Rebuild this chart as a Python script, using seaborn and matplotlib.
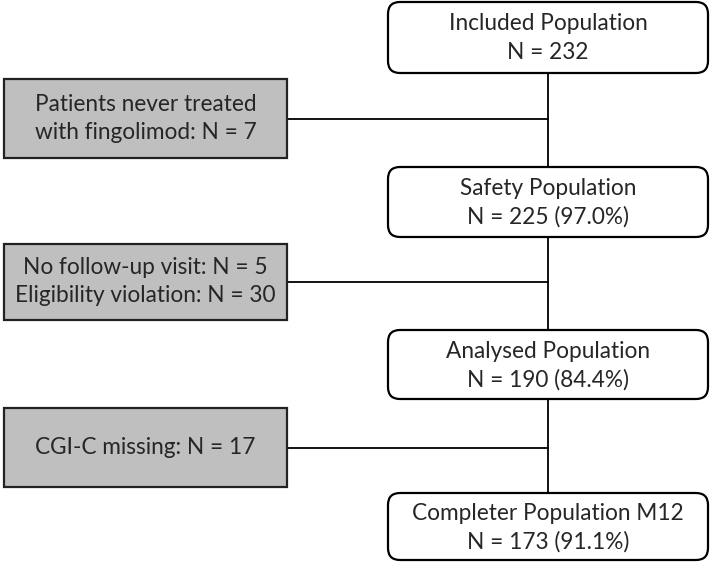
import matplotlib
matplotlib.use("Agg")
import matplotlib.pyplot as plt
from matplotlib.patches import FancyBboxPatch, Rectangle
import seaborn as sns

sns.set_theme(style="white")
plt.rcParams['font.family'] = ['Lato', 'DejaVu Sans']

# Data
pop_names = ["Included Population", "Safety Population", "Analysed Population", "Completer Population M12"]
pop_n = [232, 225, 190, 173]
pop_pct = [None, "97.0%", "84.4%", "91.1%"]
excl_labels = [["Patients never treated", "with fingolimod: N = 7"],
               ["No follow-up visit: N = 5", "Eligibility violation: N = 30"],
               ["CGI-C missing: N = 17"]]

# Layout (pixels, y from top)
right_x = (388, 708)
right_y = [(2, 73), (167, 237), (330, 399), (493, 560)]
left_x = (4, 287)
left_y = [(79, 158), (244, 320), (408, 487)]

fig = plt.figure(figsize=(7.1, 5.62), dpi=100)
ax = fig.add_axes([0, 0, 1, 1])
ax.set_xlim(0, 710)
ax.set_ylim(562, 0)
ax.axis("off")

cx = (right_x[0] + right_x[1]) / 2
lw = 1.6
fs = 16.3

# vertical spine
ax.plot([cx, cx], [right_y[0][1], right_y[-1][0]], color="black", lw=1.3, zorder=1)

for i, (name, n, pct) in enumerate(zip(pop_names, pop_n, pop_pct)):
    y0, y1 = right_y[i]
    box = FancyBboxPatch((right_x[0], y0), right_x[1] - right_x[0], y1 - y0,
                         boxstyle="round,pad=0,rounding_size=12",
                         facecolor="white", edgecolor="black", lw=lw, zorder=2)
    ax.add_patch(box)
    line2 = f"N = {n}" if pct is None else f"N = {n} ({pct})"
    ym = (y0 + y1) / 2
    ax.text(cx, ym - 13.5, name, ha="center", va="center", fontsize=fs, zorder=3)
    ax.text(cx, ym + 15, line2, ha="center", va="center", fontsize=fs, zorder=3)

lcx = (left_x[0] + left_x[1]) / 2
for i, lines in enumerate(excl_labels):
    y0, y1 = left_y[i]
    ax.add_patch(Rectangle((left_x[0], y0), left_x[1] - left_x[0], y1 - y0,
                           facecolor="#BFBFBF", edgecolor="#222222", lw=lw, zorder=2))
    ym = (y0 + y1) / 2
    ax.plot([left_x[1], cx], [ym, ym], color="black", lw=1.3, zorder=1)
    if len(lines) == 1:
        ax.text(lcx, ym, lines[0], ha="center", va="center", fontsize=fs, zorder=3)
    else:
        ax.text(lcx, ym - 14, lines[0], ha="center", va="center", fontsize=fs, zorder=3)
        ax.text(lcx, ym + 14, lines[1], ha="center", va="center", fontsize=fs, zorder=3)

fig.savefig("out.png", dpi=100, facecolor="white")
